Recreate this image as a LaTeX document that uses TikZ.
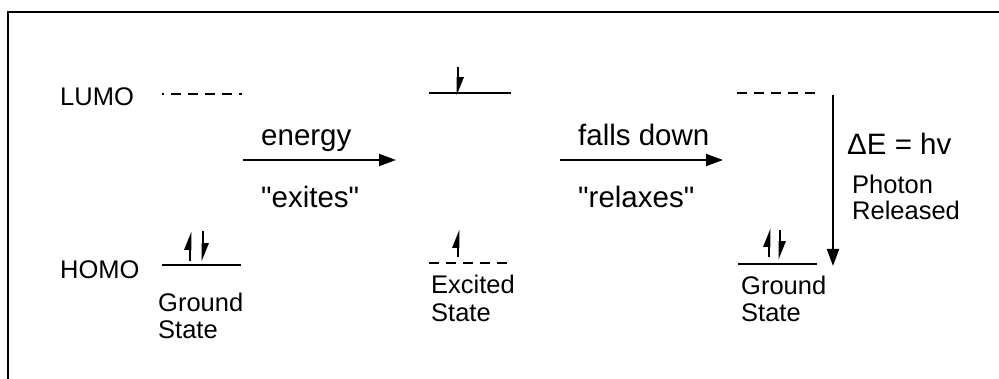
\documentclass[tikz,border=0pt]{standalone}
\usepackage{fontspec}
\setmainfont{Liberation Sans}
\usetikzlibrary{arrows.meta}
\begin{document}
\begin{tikzpicture}[x=1pt,y=-1pt,
  frame/.style={line width=2pt},
  level/.style={line width=2pt},
  dashlevel/.style={line width=2pt, dash pattern=on 10pt off 7pt},
  small/.style={font=\fontsize{25.5}{28}\selectfont, inner sep=0pt, anchor=base west},
  big/.style={font=\fontsize{29.5}{33}\selectfont, inner sep=0pt, anchor=base west},
  spin/.style={line width=2.8pt, -{Triangle[harpoon, length=15pt, width=11pt]}},
  bigarrow/.style={line width=2pt, -{Triangle[length=17pt, width=12pt]}}
]
\useasboundingbox (0,0) rectangle (999,379);
% frame
\coordinate (F1) at (8,379);
\coordinate (F2) at (8,12);
\coordinate (F3) at (999,12);
\draw[frame] (F1) -- (F2) -- (F3);

% labels
\node[small] (lumo) at (60,106) {LUMO};
\node[small] (homo) at (60,279) {HOMO};

% state 1
\coordinate (L1a) at (162,94); \coordinate (L1b) at (242,94);
\draw[dashlevel, dash phase=8pt] (L1a) -- (L1b);
\coordinate (H1a) at (162,265); \coordinate (H1b) at (241,265);
\draw[level] (H1a) -- (H1b);
\coordinate (u1a) at (190,261); \coordinate (u1b) at (190,231);
\coordinate (d1a) at (203,231); \coordinate (d1b) at (203,262);
\draw[spin] (u1a) -- (u1b);
\draw[spin] (d1a) -- (d1b);
\node[small] (gs1a) at (158,312) {Ground};
\node[small] (gs1b) at (158,338) {State};

% arrow 1
\coordinate (A1a) at (243,160); \coordinate (A1b) at (396,160);
\draw[bigarrow] (A1a) -- (A1b);
\node[big] (energy) at (261,146) {energy};
\node[big] (exites) at (261,208) {\textquotedbl exites\textquotedbl};

% state 2
\coordinate (L2a) at (429,93); \coordinate (L2b) at (511,93);
\draw[level] (L2a) -- (L2b);
\coordinate (d2a) at (458,67); \coordinate (d2b) at (458,96);
\draw[spin] (d2a) -- (d2b);
\coordinate (H2a) at (429,263); \coordinate (H2b) at (507,263);
\draw[dashlevel] (H2a) -- (H2b);
\coordinate (u2a) at (458,257); \coordinate (u2b) at (458,229);
\draw[spin] (u2a) -- (u2b);
\node[small] (es1) at (431,294) {Excited};
\node[small] (es2) at (431,322) {State};

% arrow 2
\coordinate (A2a) at (560,160); \coordinate (A2b) at (723,160);
\draw[bigarrow] (A2a) -- (A2b);
\node[big] (falls) at (578,146) {falls down};
\node[big] (relax) at (578,208) {\textquotedbl relaxes\textquotedbl};

% state 3
\coordinate (L3a) at (737,93); \coordinate (L3b) at (815,93);
\draw[dashlevel] (L3a) -- (L3b);
\coordinate (H3a) at (738,264); \coordinate (H3b) at (817,264);
\draw[level] (H3a) -- (H3b);
\coordinate (u3a) at (769,257); \coordinate (u3b) at (769,228);
\coordinate (d3a) at (780,230); \coordinate (d3b) at (780,260);
\draw[spin] (u3a) -- (u3b);
\draw[spin] (d3a) -- (d3b);
\node[small] (gs3a) at (741,295) {Ground};
\node[small] (gs3b) at (741,322) {State};

% photon
\coordinate (P1) at (833,95); \coordinate (P2) at (833,266);
\draw[bigarrow] (P1) -- (P2);
\node[big] (de) at (847,155) {ΔE = hv};
\node[small] (ph1) at (852,194) {Photon};
\node[small] (ph2) at (852,220) {Released};
\end{tikzpicture}
\end{document}
